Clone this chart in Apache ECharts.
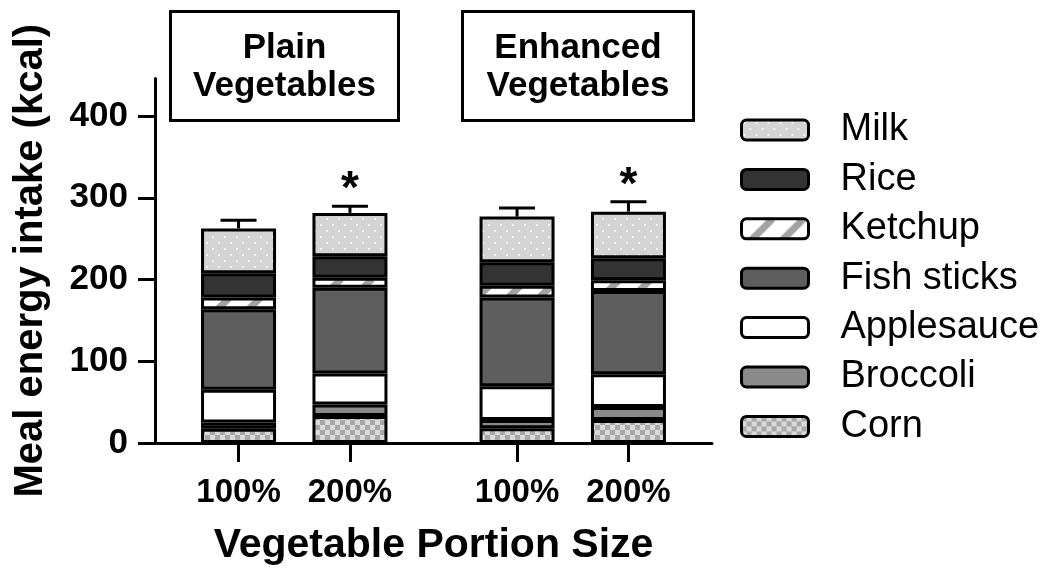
<!DOCTYPE html>
<html>
<head>
<meta charset="utf-8">
<script src="https://cdn.jsdelivr.net/npm/echarts@6/dist/echarts.min.js"></script>
<style>html,body{margin:0;padding:0;background:#fff}#c{width:1050px;height:573px}</style>
</head>
<body>
<div id="c"></div>
<script>
// ---- data ----
const groups = ['Plain\nVegetables', 'Enhanced\nVegetables'];
const portions = ['100%', '200%'];
// bar order: Plain 100%, Plain 200%, Enhanced 100%, Enhanced 200%
const corn       = [17.5, 33, 18, 28];
const broccoli   = [7.5, 14, 10, 16];
const applesauce = [40, 38, 41.5, 40];
const fishSticks = [98.5, 105, 108.5, 102];
const ketchup    = [14.5, 12, 14.5, 13];
const rice       = [29.5, 26.5, 28.5, 27];
const milk       = [55, 53, 56, 57];
const errorUp    = [10, 8, 10.5, 12];
const significant = [false, true, false, true];
const yTicks = [0, 100, 200, 300, 400];

// ---- patterns ----
function tile(w, h, draw) { const c = document.createElement('canvas'); c.width = w; c.height = h; draw(c.getContext('2d'), w, h); return { image: c, repeat: 'repeat' }; }
const cornFill = tile(10, 10, (g) => { g.fillStyle = '#dadada'; g.fillRect(0,0,10,10); g.fillStyle = '#a8a8a8'; g.fillRect(0,0,5,5); g.fillRect(5,5,5,5); });
const ketchupFill = tile(31, 31, (g, w, h) => {
  g.fillStyle = '#ffffff'; g.fillRect(0,0,w,h);
  g.strokeStyle = '#a3a3a3'; g.lineWidth = 7;
  for (const o of [-31, 0, 31]) { g.beginPath(); g.moveTo(o, h); g.lineTo(o + w, 0); g.stroke(); }
});
const milkFill = tile(12, 12, (g) => {
  g.fillStyle = '#d4d4d4'; g.fillRect(0,0,12,12);
  g.fillStyle = '#f2f2f2'; g.fillRect(2,2,2,2); g.fillRect(8,8,2,2);
});
const fills = { Corn: cornFill, Broccoli: '#8a8a8a', Applesauce: '#ffffff', 'Fish sticks': '#5e5e5e', Ketchup: ketchupFill, Rice: '#333333', Milk: milkFill };
const stackData = [['Corn', corn], ['Broccoli', broccoli], ['Applesauce', applesauce], ['Fish sticks', fishSticks], ['Ketchup', ketchup], ['Rice', rice], ['Milk', milk]];

// ---- layout: category slots, groups separated by an empty slot ----
const SLOTS_PER_GROUP = 5;
const nSlots = groups.length * SLOTS_PER_GROUP;
const barSlot = [];
const xLabels = [];
groups.forEach((g, gi) => portions.forEach((p, pi) => { barSlot.push(gi * SLOTS_PER_GROUP + 1 + pi * 2); xLabels.push(p); }));
const slotIds = Array.from({ length: nSlots }, (_, i) => 's' + i);
function toSlots(arr) { const out = slotIds.map(() => '-'); arr.forEach((v, i) => { out[barSlot[i]] = v; }); return out; }

const totals = barSlot.map((_, i) => stackData.reduce((s, d) => s + d[1][i], 0));

const font = '"Liberation Sans", Arial, sans-serif';
const series = stackData.map(([name, arr]) => ({
  name, type: 'bar', stack: 'meal', barWidth: 75,
  data: toSlots(arr),
  itemStyle: { color: fills[name], borderColor: '#000', borderWidth: 3 },
  emphasis: { disabled: true }, animation: false
}));
series.push({
  type: 'custom', name: 'err', animation: false, z: 5,
  data: barSlot.map((x, i) => [x, totals[i], errorUp[i], significant[i] ? 1 : 0]),
  renderItem(params, api) {
    const x = api.value(0), t = api.value(1), e = api.value(2), s = api.value(3);
    const p0 = api.coord([x, t]); const p1 = api.coord([x, t + e]);
    const st = { stroke: '#000', lineWidth: 3 };
    const ch = [
      { type: 'line', shape: { x1: p0[0], y1: p0[1], x2: p1[0], y2: p1[1] }, style: st },
      { type: 'line', shape: { x1: p1[0] - 18, y1: p1[1], x2: p1[0] + 18, y2: p1[1] }, style: st }
    ];
    if (s) ch.push({ type: 'text', style: { text: '*', x: p1[0], y: p1[1] - 16, align: 'center', verticalAlign: 'middle', font: 'bold 46px ' + font, fill: '#000' } });
    return { type: 'group', children: ch };
  }
});

const chart = echarts.init(document.getElementById('c'), null, { renderer: 'canvas' });
chart.setOption({
  backgroundColor: '#fff',
  animation: false,
  grid: { left: 155, right: 338, top: 78.4, bottom: 130, containLabel: false },
  legend: {
    data: ['Milk', 'Rice', 'Ketchup', 'Fish sticks', 'Applesauce', 'Broccoli', 'Corn'],
    orient: 'vertical', left: 735, top: 106, itemWidth: 67, itemHeight: 20, itemGap: 11.4,
    icon: 'roundRect', selectedMode: false,
    itemStyle: { borderColor: '#000', borderWidth: 3 },
    textStyle: { fontFamily: font, fontSize: 38, color: '#000', padding: [0, 0, 0, 27] }
  },
  xAxis: {
    type: 'category', data: slotIds, boundaryGap: true,
    axisLine: { lineStyle: { color: '#000', width: 3 } },
    axisTick: { show: true, alignWithLabel: true, interval: (idx) => barSlot.includes(idx), length: 19, lineStyle: { color: '#000', width: 3 } },
    axisLabel: { interval: 0, formatter: (v, idx) => { const i = barSlot.indexOf(idx); return i >= 0 ? xLabels[i] : ''; }, margin: 33, fontFamily: font, fontWeight: 'bold', fontSize: 33, color: '#000' },
    name: 'Vegetable Portion Size', nameLocation: 'middle', nameGap: 82,
    nameTextStyle: { fontFamily: font, fontWeight: 'bold', fontSize: 41, color: '#000' }
  },
  yAxis: {
    type: 'value', min: 0, max: 446, splitLine: { show: false },
    axisLine: { show: true, lineStyle: { color: '#000', width: 3 } },
    axisTick: { show: true, customValues: yTicks, length: 17, lineStyle: { color: '#000', width: 3 } },
    axisLabel: { customValues: yTicks, margin: 27, fontFamily: font, fontWeight: 'bold', fontSize: 35, color: '#000' },
    name: 'Meal energy intake (kcal)', nameLocation: 'middle', nameGap: 104, nameRotate: 90,
    nameTextStyle: { fontFamily: font, fontWeight: 'bold', fontSize: 40, color: '#000' }
  },
  graphic: [
    { type: 'group', left: 169, top: 10, children: [
      { type: 'rect', shape: { x: 0, y: 0, width: 228, height: 109 }, style: { fill: '#fff', stroke: '#000', lineWidth: 3 } },
      { type: 'text', style: { text: groups[0], x: 114, y: 56, align: 'center', verticalAlign: 'middle', font: 'bold 35px ' + font, lineHeight: 38, fill: '#000' } }
    ]},
    { type: 'group', left: 461, top: 10, children: [
      { type: 'rect', shape: { x: 0, y: 0, width: 231, height: 109 }, style: { fill: '#fff', stroke: '#000', lineWidth: 3 } },
      { type: 'text', style: { text: groups[1], x: 115.5, y: 56, align: 'center', verticalAlign: 'middle', font: 'bold 35px ' + font, lineHeight: 38, fill: '#000' } }
    ]}
  ],
  series
});
</script>
</body>
</html>
